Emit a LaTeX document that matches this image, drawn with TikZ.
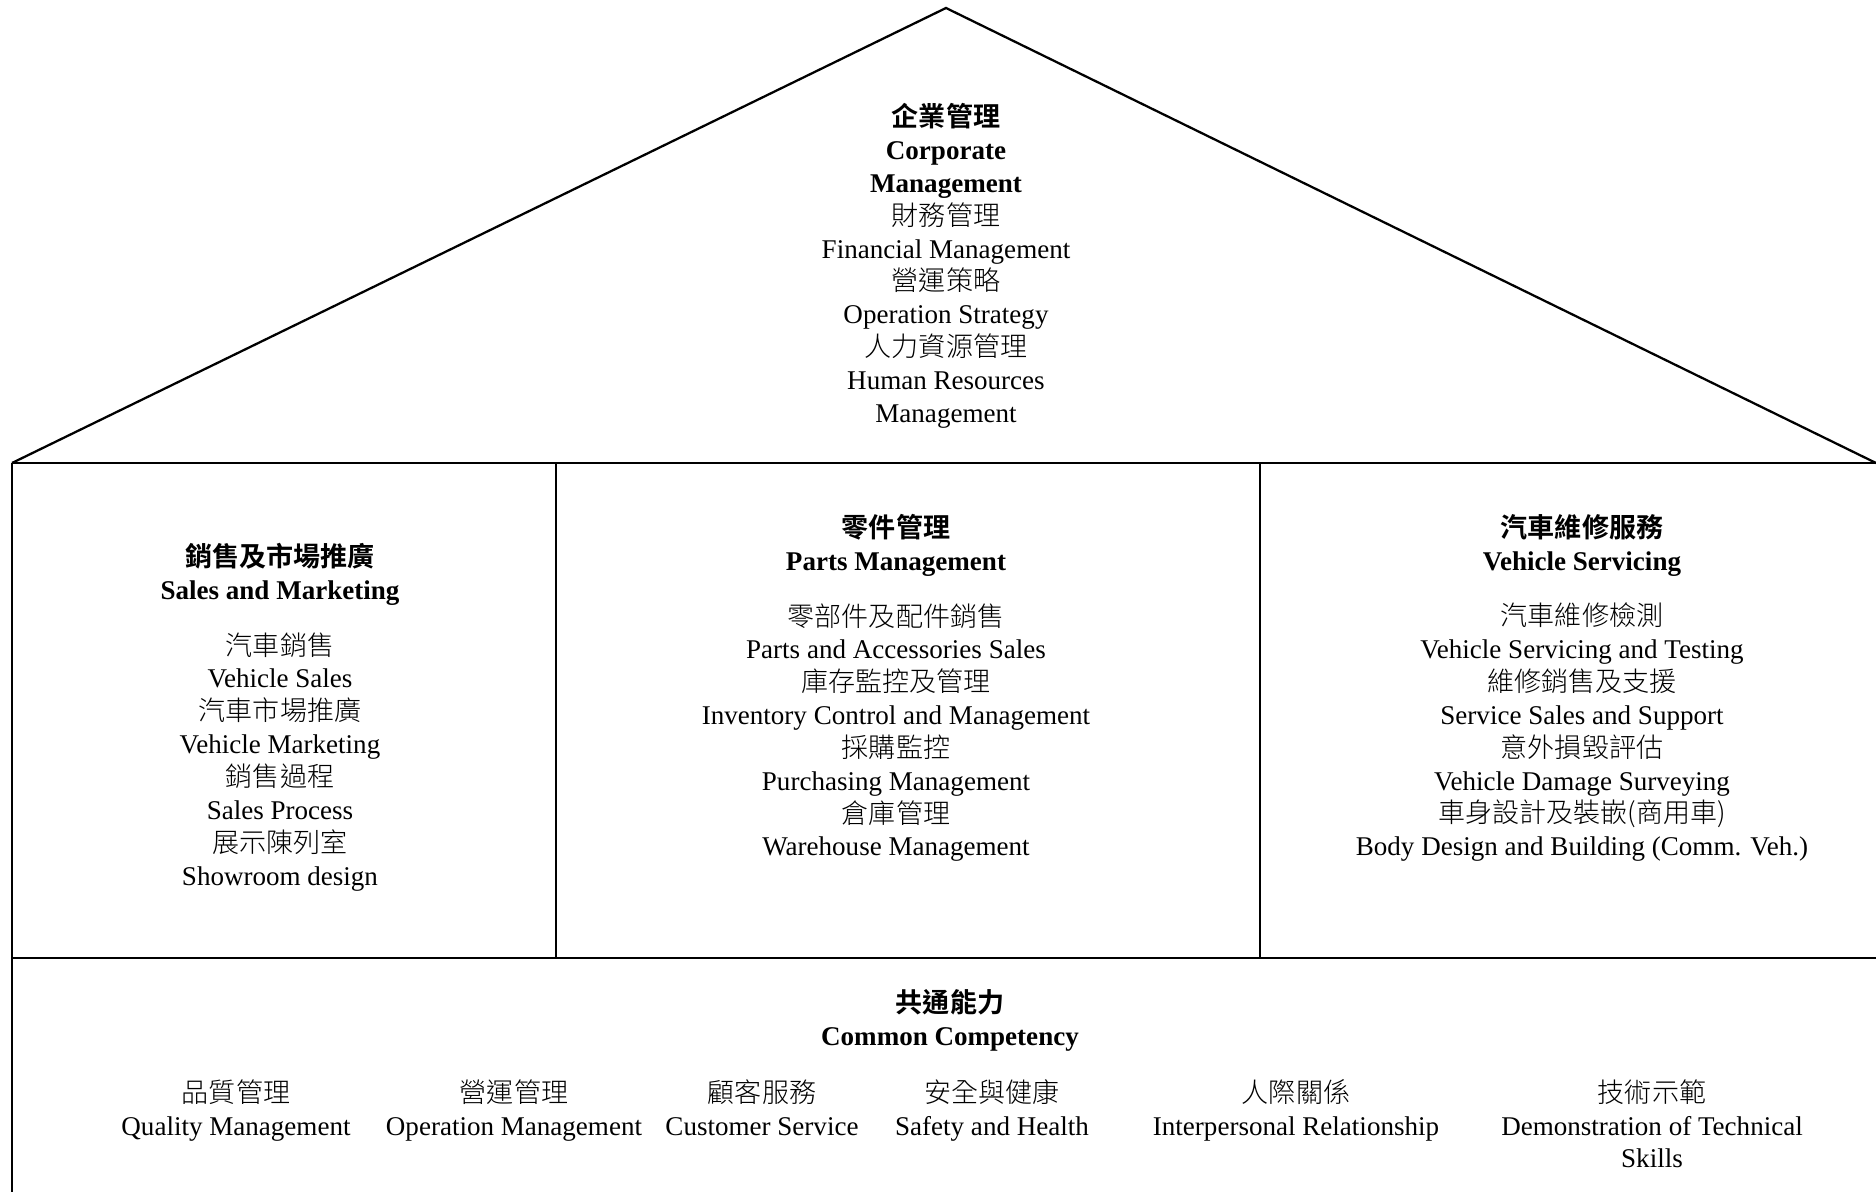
\documentclass[tikz,border=0pt]{standalone}
\usepackage{fontspec}
\setmainfont{Liberation Serif}
\newfontfamily\cjk{Noto Sans CJK TC}[UprightFont={* Light},BoldFont={* Bold}]
\newcommand{\zh}[1]{{\cjk #1}}
\newcommand{\zhb}[1]{{\cjk\bfseries #1}}

\begin{document}
\begin{tikzpicture}
[x=0.44pt,y=-0.44pt,
  roofline/.style={line width=1pt,line join=miter},%
  wallline/.style={line width=1.2pt},%
  divline/.style={line width=0.8pt},%
  blocktext/.style={anchor=north,align=center,inner sep=0pt,
    font=\fontsize{11.9pt}{14.45pt}\selectfont}]
\useasboundingbox (0,0) rectangle (1876,1192);
%% outline of the house
\coordinate (apex) at (946,8);
\coordinate (eaveL) at (12,463);
\coordinate (eaveR) at (1876,463);
\coordinate (floorL) at (12,958);
\coordinate (floorR) at (1876,958);
\coordinate (baseL) at (12,1192);
\coordinate (divA) at (556,463);
\coordinate (divB) at (1260,463);
\draw[roofline] (eaveL) -- (apex) -- (eaveR);
\draw[wallline] (eaveL) -- (eaveR);
\draw[wallline] (floorL) -- (floorR);
\draw[wallline] (eaveL) -- (baseL);
\draw[divline] (divA) -- (divA |- floorL);
\draw[divline] (divB) -- (divB |- floorL);
%% roof
\node (corp) at (946,103) [blocktext] {\zhb{企業管理}\\ \textbf{Corporate}\\ \textbf{Management}\\
  \zh{財務管理}\\ Financial Management\\ \zh{營運策略}\\ Operation Strategy\\
  \zh{人力資源管理}\\ Human Resources\\ Management};
%% pillars
\node (sales) at (280,543) [blocktext] {\zhb{銷售及市場推廣}\\ \textbf{Sales and Marketing}\\[10pt]
  \zh{汽車銷售}\\ Vehicle Sales\\ \zh{汽車市場推廣}\\ Vehicle Marketing\\
  \zh{銷售過程}\\ Sales Process\\ \zh{展示陳列室}\\ Showroom design};
\node (parts) at (896,514) [blocktext] {\zhb{零件管理}\\ \textbf{Parts Management}\\[10pt]
  \zh{零部件及配件銷售}\\ Parts and Accessories Sales\\ \zh{庫存監控及管理}\\ Inventory Control and Management\\
  \zh{採購監控}\\ Purchasing Management\\ \zh{倉庫管理}\\ Warehouse Management};
\node (service) at (1582,514) [blocktext] {\zhb{汽車維修服務}\\ \textbf{Vehicle Servicing}\\[10pt]
  \zh{汽車維修檢測}\\ Vehicle Servicing and Testing\\ \zh{維修銷售及支援}\\ Service Sales and Support\\
  \zh{意外損毀評估}\\ Vehicle Damage Surveying\\ \zh{車身設計及裝嵌(商用車)}\\ Body Design and Building (Comm. Veh.)};
%% foundation
\node (common) at (950,989) [blocktext] {\zhb{共通能力}\\ \textbf{Common Competency}};
\foreach \itemname/\x/\zhtext/\entext in {
  quality/236/品質管理/Quality Management,
  operation/514/營運管理/Operation Management,
  customer/762/顧客服務/Customer Service,
  safety/992/安全與健康/Safety and Health,
  relation/1296/人際關係/Interpersonal Relationship,
  demo/1652/技術示範/{Demonstration of Technical\\ Skills}}
{
  \node (\itemname) at (\x,1079) [blocktext] {\zh{\zhtext}\\ \entext};
}
\end{tikzpicture}
\end{document}
